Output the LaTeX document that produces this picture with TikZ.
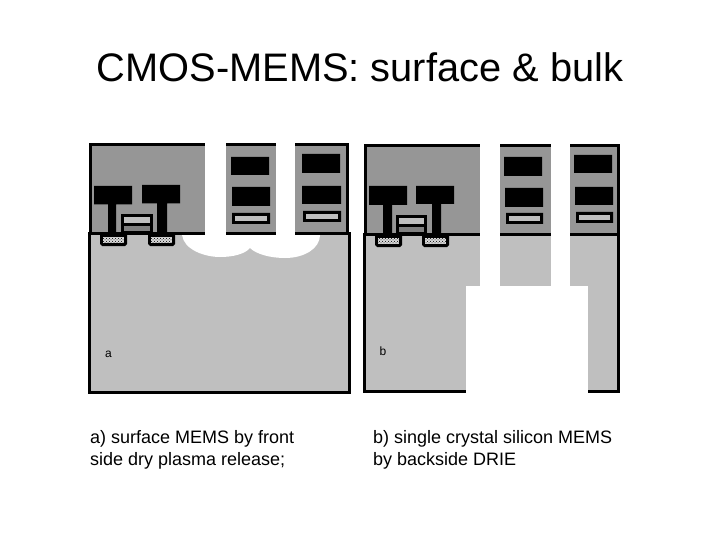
\documentclass[tikz,border=0pt]{standalone}
\usepackage{fontspec}
\setmainfont{Liberation Sans}
\usetikzlibrary{patterns}
\definecolor{oxide}{gray}{0.59}
\definecolor{silicon}{gray}{0.75}
\definecolor{poly}{gray}{0.5}
\tikzset{
  metal/.style={fill=black},
  polyfill/.style={fill=silicon},
  gatefill/.style={fill=poly},
  welldot/.style={fill=gray!30,postaction={pattern=crosshatch dots,pattern color=black}},
  etch/.style={fill=white},
  caption/.style={anchor=base west,inner sep=0pt,font=\fontsize{18}{18}\selectfont},
  panelmark/.style={inner sep=0pt,font=\fontsize{12}{12}\selectfont}
}
\begin{document}
\begin{tikzpicture}[x=1pt,y=-1pt]
  \useasboundingbox (0,0) rectangle (720,540);
  \fill[white] (0,0) rectangle (720,540);
  \node[anchor=base,inner sep=0pt,font=\fontsize{39.8}{40}\selectfont] (title) at (360,82) {CMOS-MEMS: surface \& bulk};
  % panel a
  \draw[line width=3pt,fill=oxide] (90.5,144.5) rectangle (347.5,233.5);
  \draw[line width=3pt,fill=silicon] (89.5,233.5) rectangle (349,392);
  % cavities and trenches
  \path[etch] (182,235) .. controls (184,250) and (205,257) .. (220,257)
    .. controls (233,257) and (245,254) .. (250,248)
    .. controls (256,254) and (270,258) .. (285,258)
    .. controls (305,258) and (320,248) .. (320,235) -- cycle;
  \path[etch] (205,135) rectangle (226,245);
  \path[etch] (276,135) rectangle (295,245);
  % transistor
  \fill[metal] (94,186) rectangle (132,204.5) (108,204) rectangle (116,233);
  \fill[metal] (142,185) rectangle (180,203.5) (157,203) rectangle (167,233);
  \fill[metal] (120.5,214) rectangle (153,233);
  \fill[polyfill] (124,217) rectangle (150,223);
  \fill[gatefill] (124,226) rectangle (150,231);
  \foreach \wx in {100,148} {
    \fill[metal] (\wx,235) -- ++(27,0) -- ++(0,9) -- ++(-2,2) -- ++(-23,0) -- ++(-2,-2) -- cycle;
    \path[welldot] (\wx+3,237) rectangle (\wx+24,243);
  }
  % upper layers
  \fill[metal] (231,157) rectangle (269,175) (232,187) rectangle (270,206) (232,213) rectangle (270,224);
  \fill[polyfill] (235,216) rectangle (267,221);
  \fill[metal] (302,154) rectangle (340,173) (302,186) rectangle (341,204) (303,211) rectangle (341,222);
  \fill[polyfill] (306,214) rectangle (338,219);
  \node[panelmark] (marka) at (108.5,354) {a};
  % panel b
  \draw[line width=3pt,fill=oxide] (365.5,145.5) rectangle (618.5,234.5);
  \draw[line width=3pt,fill=silicon] (364.5,234.5) rectangle (618.5,391.5);
  \path[etch] (466,286) rectangle (588,396);
  \path[etch] (480,135) rectangle (500,287);
  \path[etch] (551,135) rectangle (570,287);
  % transistor
  \fill[metal] (369,186) rectangle (407,205) (383,204) rectangle (392,234);
  \fill[metal] (416,186) rectangle (454,204) (432,203) rectangle (441,234);
  \fill[metal] (396,215) rectangle (427,234);
  \fill[polyfill] (399,218) rectangle (424,224);
  \fill[gatefill] (399,227) rectangle (424,232);
  \foreach \wx in {375,422} {
    \fill[metal] (\wx,236) -- ++(27,0) -- ++(0,9) -- ++(-2,2) -- ++(-23,0) -- ++(-2,-2) -- cycle;
    \path[welldot] (\wx+3,238) rectangle (\wx+24,244);
  }
  % upper layers
  \fill[metal] (504,157) rectangle (542,176) (505,188) rectangle (543,207) (506,213) rectangle (543,224);
  \fill[polyfill] (509,216) rectangle (540,221);
  \fill[metal] (574,155) rectangle (612,173) (575,187) rectangle (613,205) (576,212) rectangle (613,223);
  \fill[polyfill] (579,215) rectangle (610,220);
  \node[panelmark] (markb) at (383,351) {b};
  % captions
  \node[caption] (capa1) at (90,443) {a) surface MEMS by front};
  \node[caption] (capa2) at (90,465) {side dry plasma release;};
  \node[caption] (capb1) at (373,443) {b) single crystal silicon MEMS};
  \node[caption] (capb2) at (373,465) {by backside DRIE};
\end{tikzpicture}
\end{document}
